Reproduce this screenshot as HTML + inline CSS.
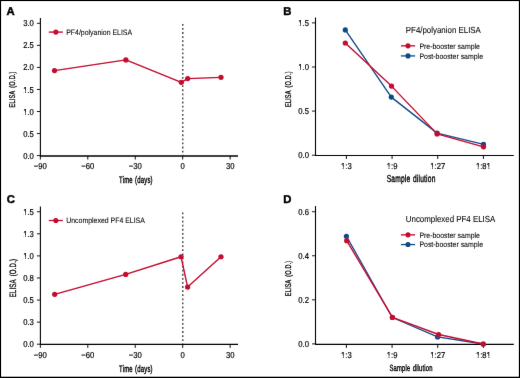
<!DOCTYPE html>
<html><head><meta charset="utf-8"><style>
html,body{margin:0;padding:0;background:#fff;}
svg{display:block;font-family:"Liberation Sans", sans-serif;text-rendering:geometricPrecision;}
text{stroke:#000;stroke-width:0.07px;paint-order:stroke;}
text.b{stroke:none;}
text.m{stroke-width:0.32px;}
text.L{stroke-width:0.45px;}
text.t{stroke-width:0.2px;}
text.y{stroke-width:0.3px;}
text.x{stroke-width:0.4px;}
</style></head><body>
<svg width="520" height="378" viewBox="0 0 520 378">
<defs><filter id="bl" x="0" y="0" width="520" height="378" filterUnits="userSpaceOnUse"><feConvolveMatrix order="3" kernelMatrix="0.0028 0.0470 0.0028 0.0470 0.8008 0.0470 0.0028 0.0470 0.0028" divisor="1" edgeMode="none" preserveAlpha="false"/></filter></defs>
<rect x="0" y="0" width="520" height="378" fill="#fff"/>
<g filter="url(#bl)">
<text x="6.4" y="14.75" font-size="11.3" font-weight="bold" fill="#000" class="L">A</text>
<line x1="40.4" y1="17.9" x2="40.4" y2="156" stroke="#000" stroke-width="1.1"/>
<line x1="39.9" y1="156" x2="238" y2="156" stroke="#000" stroke-width="1.4"/>
<line x1="36.9" y1="155.6" x2="40.4" y2="155.6" stroke="#000" stroke-width="0.9"/>
<text transform="translate(33.9,158.65) scale(0.8929,1)" font-size="8.62" text-anchor="end" fill="#000" class="t">0.0</text>
<line x1="36.9" y1="133.55" x2="40.4" y2="133.55" stroke="#000" stroke-width="0.9"/>
<text transform="translate(33.9,136.6) scale(0.8929,1)" font-size="8.62" text-anchor="end" fill="#000" class="t">0.5</text>
<line x1="36.9" y1="111.5" x2="40.4" y2="111.5" stroke="#000" stroke-width="0.9"/>
<g transform="translate(33.9,114.55) scale(0.8929,1)"><text font-size="8.62" text-anchor="end" fill="#000" class="t">1.0</text><rect x="-11.778" y="-1.769" width="1.853" height="2.190" fill="#fff"/><rect x="-8.952" y="-1.769" width="1.722" height="2.190" fill="#fff"/></g>
<line x1="36.9" y1="89.45" x2="40.4" y2="89.45" stroke="#000" stroke-width="0.9"/>
<g transform="translate(33.9,92.5) scale(0.8929,1)"><text font-size="8.62" text-anchor="end" fill="#000" class="t">1.5</text><rect x="-11.778" y="-1.769" width="1.853" height="2.190" fill="#fff"/><rect x="-8.952" y="-1.769" width="1.722" height="2.190" fill="#fff"/></g>
<line x1="36.9" y1="67.4" x2="40.4" y2="67.4" stroke="#000" stroke-width="0.9"/>
<text transform="translate(33.9,70.45) scale(0.8929,1)" font-size="8.62" text-anchor="end" fill="#000" class="t">2.0</text>
<line x1="36.9" y1="45.35" x2="40.4" y2="45.35" stroke="#000" stroke-width="0.9"/>
<text transform="translate(33.9,48.4) scale(0.8929,1)" font-size="8.62" text-anchor="end" fill="#000" class="t">2.5</text>
<line x1="36.9" y1="23.3" x2="40.4" y2="23.3" stroke="#000" stroke-width="0.9"/>
<text transform="translate(33.9,26.35) scale(0.8929,1)" font-size="8.62" text-anchor="end" fill="#000" class="t">3.0</text>
<line x1="40.35" y1="156" x2="40.35" y2="159.5" stroke="#000" stroke-width="0.95"/>
<text transform="translate(40.35,169.4) scale(0.8929,1)" font-size="8.62" text-anchor="middle" fill="#000" class="t">−90</text>
<line x1="87.8" y1="156" x2="87.8" y2="159.5" stroke="#000" stroke-width="0.95"/>
<text transform="translate(87.8,169.4) scale(0.8929,1)" font-size="8.62" text-anchor="middle" fill="#000" class="t">−60</text>
<line x1="135.25" y1="156" x2="135.25" y2="159.5" stroke="#000" stroke-width="0.95"/>
<text transform="translate(135.25,169.4) scale(0.8929,1)" font-size="8.62" text-anchor="middle" fill="#000" class="t">−30</text>
<line x1="182.7" y1="156" x2="182.7" y2="159.5" stroke="#000" stroke-width="0.95"/>
<text transform="translate(182.7,169.4) scale(0.8929,1)" font-size="8.62" text-anchor="middle" fill="#000" class="t">0</text>
<line x1="230.15" y1="156" x2="230.15" y2="159.5" stroke="#000" stroke-width="0.95"/>
<text transform="translate(230.15,169.4) scale(0.8929,1)" font-size="8.62" text-anchor="middle" fill="#000" class="t">30</text>
<line x1="182.8" y1="23.9" x2="182.8" y2="155.3" stroke="#333" stroke-width="1.3" stroke-dasharray="1.8 2.29"/>
<text transform="translate(135.9,182.9) scale(0.62,1)" font-size="9.6" text-anchor="middle" font-weight="normal" fill="#000" class="x" letter-spacing="0.3" word-spacing="0.8">Time (days)</text>
<text transform="translate(15.1,89.35) rotate(-90) scale(0.668,1)" font-size="8.4" text-anchor="middle" font-weight="normal" fill="#000" class="y" letter-spacing="0.3" word-spacing="2.0">ELISA (O.D.)</text>
<line x1="48.8" y1="32.1" x2="62.9" y2="32.1" stroke="#c4082d" stroke-width="1.3"/>
<circle cx="55.85" cy="32.1" r="2.55" fill="#c4082d"/>
<text transform="translate(66.2,34.85) scale(0.8929,1)" font-size="7.78" text-anchor="start" fill="#000">PF4/polyanion ELISA</text>
<polyline points="54.5,70.6 125.9,59.95 181.3,82.3 187.7,78.6 221,77.3" fill="none" stroke="#c4082d" stroke-width="1.35" stroke-linejoin="round"/>
<circle cx="54.5" cy="70.6" r="2.6" fill="#c4082d"/>
<circle cx="125.9" cy="59.95" r="2.6" fill="#c4082d"/>
<circle cx="181.3" cy="82.3" r="2.6" fill="#c4082d"/>
<circle cx="187.7" cy="78.6" r="2.6" fill="#c4082d"/>
<circle cx="221" cy="77.3" r="2.6" fill="#c4082d"/>
<text x="6.7" y="203" font-size="11.3" font-weight="bold" fill="#000" class="L">C</text>
<line x1="40.4" y1="206.5" x2="40.4" y2="344.4" stroke="#000" stroke-width="1.1"/>
<line x1="39.9" y1="344.4" x2="238" y2="344.4" stroke="#000" stroke-width="1.1"/>
<line x1="36.9" y1="344.2" x2="40.4" y2="344.2" stroke="#000" stroke-width="0.9"/>
<text transform="translate(33.9,347.25) scale(0.8929,1)" font-size="8.62" text-anchor="end" fill="#000" class="t">0.0</text>
<line x1="36.9" y1="322.12" x2="40.4" y2="322.12" stroke="#000" stroke-width="0.9"/>
<text transform="translate(33.9,325.18) scale(0.8929,1)" font-size="8.62" text-anchor="end" fill="#000" class="t">0.3</text>
<line x1="36.9" y1="300.05" x2="40.4" y2="300.05" stroke="#000" stroke-width="0.9"/>
<text transform="translate(33.9,303.1) scale(0.8929,1)" font-size="8.62" text-anchor="end" fill="#000" class="t">0.5</text>
<line x1="36.9" y1="277.98" x2="40.4" y2="277.98" stroke="#000" stroke-width="0.9"/>
<text transform="translate(33.9,281.03) scale(0.8929,1)" font-size="8.62" text-anchor="end" fill="#000" class="t">0.8</text>
<line x1="36.9" y1="255.9" x2="40.4" y2="255.9" stroke="#000" stroke-width="0.9"/>
<g transform="translate(33.9,258.95) scale(0.8929,1)"><text font-size="8.62" text-anchor="end" fill="#000" class="t">1.0</text><rect x="-11.778" y="-1.769" width="1.853" height="2.190" fill="#fff"/><rect x="-8.952" y="-1.769" width="1.722" height="2.190" fill="#fff"/></g>
<line x1="36.9" y1="233.82" x2="40.4" y2="233.82" stroke="#000" stroke-width="0.9"/>
<g transform="translate(33.9,236.88) scale(0.8929,1)"><text font-size="8.62" text-anchor="end" fill="#000" class="t">1.3</text><rect x="-11.778" y="-1.769" width="1.853" height="2.190" fill="#fff"/><rect x="-8.952" y="-1.769" width="1.722" height="2.190" fill="#fff"/></g>
<line x1="36.9" y1="211.75" x2="40.4" y2="211.75" stroke="#000" stroke-width="0.9"/>
<g transform="translate(33.9,214.8) scale(0.8929,1)"><text font-size="8.62" text-anchor="end" fill="#000" class="t">1.5</text><rect x="-11.778" y="-1.769" width="1.853" height="2.190" fill="#fff"/><rect x="-8.952" y="-1.769" width="1.722" height="2.190" fill="#fff"/></g>
<line x1="40.35" y1="344.4" x2="40.35" y2="347.9" stroke="#000" stroke-width="0.95"/>
<text transform="translate(40.35,358) scale(0.8929,1)" font-size="8.62" text-anchor="middle" fill="#000" class="t">−90</text>
<line x1="87.8" y1="344.4" x2="87.8" y2="347.9" stroke="#000" stroke-width="0.95"/>
<text transform="translate(87.8,358) scale(0.8929,1)" font-size="8.62" text-anchor="middle" fill="#000" class="t">−60</text>
<line x1="135.25" y1="344.4" x2="135.25" y2="347.9" stroke="#000" stroke-width="0.95"/>
<text transform="translate(135.25,358) scale(0.8929,1)" font-size="8.62" text-anchor="middle" fill="#000" class="t">−30</text>
<line x1="182.7" y1="344.4" x2="182.7" y2="347.9" stroke="#000" stroke-width="0.95"/>
<text transform="translate(182.7,358) scale(0.8929,1)" font-size="8.62" text-anchor="middle" fill="#000" class="t">0</text>
<line x1="230.15" y1="344.4" x2="230.15" y2="347.9" stroke="#000" stroke-width="0.95"/>
<text transform="translate(230.15,358) scale(0.8929,1)" font-size="8.62" text-anchor="middle" fill="#000" class="t">30</text>
<line x1="182.8" y1="212.5" x2="182.8" y2="343.9" stroke="#333" stroke-width="1.3" stroke-dasharray="1.8 2.29"/>
<text transform="translate(135.9,371.5) scale(0.62,1)" font-size="9.6" text-anchor="middle" font-weight="normal" fill="#000" class="x" letter-spacing="0.3" word-spacing="0.8">Time (days)</text>
<text transform="translate(15.6,278.05) rotate(-90) scale(0.658,1)" font-size="9.2" text-anchor="middle" font-weight="normal" fill="#000" class="y" letter-spacing="0.3" word-spacing="2.0">ELISA (O.D.)</text>
<line x1="48.8" y1="220.5" x2="62.9" y2="220.5" stroke="#c4082d" stroke-width="1.3"/>
<circle cx="55.85" cy="220.5" r="2.55" fill="#c4082d"/>
<text transform="translate(66.2,223.25) scale(0.8929,1)" font-size="7.78" text-anchor="start" fill="#000">Uncomplexed PF4 ELISA</text>
<polyline points="54.7,294.3 125.7,274.45 181.05,256.75 187.6,287.05 221,256.75" fill="none" stroke="#c4082d" stroke-width="1.35" stroke-linejoin="round"/>
<circle cx="54.7" cy="294.3" r="2.6" fill="#c4082d"/>
<circle cx="125.7" cy="274.45" r="2.6" fill="#c4082d"/>
<circle cx="181.05" cy="256.75" r="2.6" fill="#c4082d"/>
<circle cx="187.6" cy="287.05" r="2.6" fill="#c4082d"/>
<circle cx="221" cy="256.75" r="2.6" fill="#c4082d"/>
<text x="283.2" y="14.5" font-size="11.3" font-weight="bold" fill="#000" class="L">B</text>
<line x1="315.5" y1="17.5" x2="315.5" y2="155.45" stroke="#000" stroke-width="1.1"/>
<line x1="315" y1="155.45" x2="513.8" y2="155.45" stroke="#000" stroke-width="1.1"/>
<line x1="312" y1="155.2" x2="315.5" y2="155.2" stroke="#000" stroke-width="0.9"/>
<text transform="translate(309,158.25) scale(0.8929,1)" font-size="8.62" text-anchor="end" fill="#000" class="t">0.0</text>
<line x1="312" y1="111.1" x2="315.5" y2="111.1" stroke="#000" stroke-width="0.9"/>
<text transform="translate(309,114.15) scale(0.8929,1)" font-size="8.62" text-anchor="end" fill="#000" class="t">0.5</text>
<line x1="312" y1="67" x2="315.5" y2="67" stroke="#000" stroke-width="0.9"/>
<g transform="translate(309,70.05) scale(0.8929,1)"><text font-size="8.62" text-anchor="end" fill="#000" class="t">1.0</text><rect x="-11.778" y="-1.769" width="1.853" height="2.190" fill="#fff"/><rect x="-8.952" y="-1.769" width="1.722" height="2.190" fill="#fff"/></g>
<line x1="312" y1="22.9" x2="315.5" y2="22.9" stroke="#000" stroke-width="0.9"/>
<g transform="translate(309,25.95) scale(0.8929,1)"><text font-size="8.62" text-anchor="end" fill="#000" class="t">1.5</text><rect x="-11.778" y="-1.769" width="1.853" height="2.190" fill="#fff"/><rect x="-8.952" y="-1.769" width="1.722" height="2.190" fill="#fff"/></g>
<line x1="346.4" y1="155.45" x2="346.4" y2="158.95" stroke="#000" stroke-width="0.95"/>
<g transform="translate(346.4,168.8) scale(0.8929,1)"><text font-size="8.62" text-anchor="middle" fill="#000" class="t">1:3</text><rect x="-5.784" y="-1.769" width="1.853" height="2.190" fill="#fff"/><rect x="-2.958" y="-1.769" width="1.722" height="2.190" fill="#fff"/></g>
<line x1="392.07" y1="155.45" x2="392.07" y2="158.95" stroke="#000" stroke-width="0.95"/>
<g transform="translate(392.07,168.8) scale(0.8929,1)"><text font-size="8.62" text-anchor="middle" fill="#000" class="t">1:9</text><rect x="-5.784" y="-1.769" width="1.853" height="2.190" fill="#fff"/><rect x="-2.958" y="-1.769" width="1.722" height="2.190" fill="#fff"/></g>
<line x1="437.74" y1="155.45" x2="437.74" y2="158.95" stroke="#000" stroke-width="0.95"/>
<g transform="translate(437.74,168.8) scale(0.8929,1)"><text font-size="8.62" text-anchor="middle" fill="#000" class="t">1:27</text><rect x="-8.182" y="-1.769" width="1.853" height="2.190" fill="#fff"/><rect x="-5.356" y="-1.769" width="1.722" height="2.190" fill="#fff"/></g>
<line x1="483.41" y1="155.45" x2="483.41" y2="158.95" stroke="#000" stroke-width="0.95"/>
<g transform="translate(483.41,168.8) scale(0.8929,1)"><text font-size="8.62" text-anchor="middle" fill="#000" class="t">1:81</text><rect x="-8.182" y="-1.769" width="1.853" height="2.190" fill="#fff"/><rect x="-5.356" y="-1.769" width="1.722" height="2.190" fill="#fff"/><rect x="3.807" y="-1.769" width="1.853" height="2.190" fill="#fff"/><rect x="6.632" y="-1.769" width="1.722" height="2.190" fill="#fff"/></g>
<text transform="translate(411.1,182.3) scale(0.652,1)" font-size="10.2" text-anchor="middle" font-weight="normal" fill="#000" class="x" letter-spacing="0.3" word-spacing="0.8">Sample dilution</text>
<text transform="translate(290.7,89.2) rotate(-90) scale(0.663,1)" font-size="8.4" text-anchor="middle" font-weight="normal" fill="#000" class="y" letter-spacing="0.3" word-spacing="2.0">ELISA (O.D.)</text>
<text transform="translate(405.8,33.1) scale(0.8929,1)" font-size="8.85" text-anchor="start" fill="#000">PF4/polyanion ELISA</text>
<line x1="400.9" y1="45.85" x2="415.1" y2="45.85" stroke="#c4082d" stroke-width="1.3"/>
<circle cx="408" cy="45.85" r="2.55" fill="#c4082d"/>
<text transform="translate(419.4,48.6) scale(0.8929,1)" font-size="7.78" text-anchor="start" fill="#000">Pre-booster sample</text>
<line x1="400.9" y1="55.9" x2="415.1" y2="55.9" stroke="#0a4a88" stroke-width="1.3"/>
<circle cx="408" cy="55.9" r="2.55" fill="#0a4a88"/>
<text transform="translate(419.4,58.65) scale(0.8929,1)" font-size="7.78" text-anchor="start" fill="#000">Post-booster sample</text>
<polyline points="345.3,29.9 391.3,97.1 437.1,133.1 483.5,144.4" fill="none" stroke="#0a4a88" stroke-width="1.35" stroke-linejoin="round"/>
<circle cx="345.3" cy="29.9" r="2.6" fill="#0a4a88"/>
<circle cx="391.3" cy="97.1" r="2.6" fill="#0a4a88"/>
<circle cx="437.1" cy="133.1" r="2.6" fill="#0a4a88"/>
<circle cx="483.5" cy="144.4" r="2.6" fill="#0a4a88"/>
<polyline points="345.3,43 391.5,86.1 437.1,133.9 483.5,146.8" fill="none" stroke="#c4082d" stroke-width="1.35" stroke-linejoin="round"/>
<circle cx="345.3" cy="43" r="2.6" fill="#c4082d"/>
<circle cx="391.5" cy="86.1" r="2.6" fill="#c4082d"/>
<circle cx="437.1" cy="133.9" r="2.6" fill="#c4082d"/>
<circle cx="483.5" cy="146.8" r="2.6" fill="#c4082d"/>
<text x="283.2" y="203" font-size="11.3" font-weight="bold" fill="#000" class="L">D</text>
<line x1="315.5" y1="206.1" x2="315.5" y2="344.4" stroke="#000" stroke-width="1.1"/>
<line x1="315" y1="344.4" x2="513.8" y2="344.4" stroke="#000" stroke-width="1.1"/>
<line x1="312" y1="343.9" x2="315.5" y2="343.9" stroke="#000" stroke-width="0.9"/>
<text transform="translate(309,346.95) scale(0.8929,1)" font-size="8.62" text-anchor="end" fill="#000" class="t">0.0</text>
<line x1="312" y1="299.84" x2="315.5" y2="299.84" stroke="#000" stroke-width="0.9"/>
<text transform="translate(309,302.89) scale(0.8929,1)" font-size="8.62" text-anchor="end" fill="#000" class="t">0.2</text>
<line x1="312" y1="255.78" x2="315.5" y2="255.78" stroke="#000" stroke-width="0.9"/>
<text transform="translate(309,258.83) scale(0.8929,1)" font-size="8.62" text-anchor="end" fill="#000" class="t">0.4</text>
<line x1="312" y1="211.72" x2="315.5" y2="211.72" stroke="#000" stroke-width="0.9"/>
<text transform="translate(309,214.77) scale(0.8929,1)" font-size="8.62" text-anchor="end" fill="#000" class="t">0.6</text>
<line x1="346.4" y1="344.4" x2="346.4" y2="347.9" stroke="#000" stroke-width="0.95"/>
<g transform="translate(346.4,357.8) scale(0.8929,1)"><text font-size="8.62" text-anchor="middle" fill="#000" class="t">1:3</text><rect x="-5.784" y="-1.769" width="1.853" height="2.190" fill="#fff"/><rect x="-2.958" y="-1.769" width="1.722" height="2.190" fill="#fff"/></g>
<line x1="392.07" y1="344.4" x2="392.07" y2="347.9" stroke="#000" stroke-width="0.95"/>
<g transform="translate(392.07,357.8) scale(0.8929,1)"><text font-size="8.62" text-anchor="middle" fill="#000" class="t">1:9</text><rect x="-5.784" y="-1.769" width="1.853" height="2.190" fill="#fff"/><rect x="-2.958" y="-1.769" width="1.722" height="2.190" fill="#fff"/></g>
<line x1="437.74" y1="344.4" x2="437.74" y2="347.9" stroke="#000" stroke-width="0.95"/>
<g transform="translate(437.74,357.8) scale(0.8929,1)"><text font-size="8.62" text-anchor="middle" fill="#000" class="t">1:27</text><rect x="-8.182" y="-1.769" width="1.853" height="2.190" fill="#fff"/><rect x="-5.356" y="-1.769" width="1.722" height="2.190" fill="#fff"/></g>
<line x1="483.41" y1="344.4" x2="483.41" y2="347.9" stroke="#000" stroke-width="0.95"/>
<g transform="translate(483.41,357.8) scale(0.8929,1)"><text font-size="8.62" text-anchor="middle" fill="#000" class="t">1:81</text><rect x="-8.182" y="-1.769" width="1.853" height="2.190" fill="#fff"/><rect x="-5.356" y="-1.769" width="1.722" height="2.190" fill="#fff"/><rect x="3.807" y="-1.769" width="1.853" height="2.190" fill="#fff"/><rect x="6.632" y="-1.769" width="1.722" height="2.190" fill="#fff"/></g>
<text transform="translate(411.1,371.2) scale(0.645,1)" font-size="9.0" text-anchor="middle" font-weight="normal" fill="#000" class="x" letter-spacing="0.3" word-spacing="0.8">Sample dilution</text>
<text transform="translate(290.6,278.4) rotate(-90) scale(0.665,1)" font-size="8.3" text-anchor="middle" font-weight="normal" fill="#000" class="y" letter-spacing="0.3" word-spacing="2.0">ELISA (O.D.)</text>
<text transform="translate(405.8,222) scale(0.8929,1)" font-size="8.85" text-anchor="start" fill="#000">Uncomplexed PF4 ELISA</text>
<line x1="400.9" y1="234.85" x2="415.1" y2="234.85" stroke="#c4082d" stroke-width="1.3"/>
<circle cx="408" cy="234.85" r="2.55" fill="#c4082d"/>
<text transform="translate(419.4,237.6) scale(0.8929,1)" font-size="7.78" text-anchor="start" fill="#000">Pre-booster sample</text>
<line x1="400.9" y1="244.55" x2="415.1" y2="244.55" stroke="#0a4a88" stroke-width="1.3"/>
<circle cx="408" cy="244.55" r="2.55" fill="#0a4a88"/>
<text transform="translate(419.4,247.3) scale(0.8929,1)" font-size="7.78" text-anchor="start" fill="#000">Post-booster sample</text>
<polyline points="346.4,236.3 392.3,317.5 437.6,336.9 483.3,344" fill="none" stroke="#0a4a88" stroke-width="1.35" stroke-linejoin="round"/>
<circle cx="346.4" cy="236.3" r="2.6" fill="#0a4a88"/>
<circle cx="392.3" cy="317.5" r="2.6" fill="#0a4a88"/>
<circle cx="437.6" cy="336.9" r="2.6" fill="#0a4a88"/>
<circle cx="483.3" cy="344" r="2.6" fill="#0a4a88"/>
<polyline points="346.7,240.7 392.5,317.3 438.6,334.5 483.1,344" fill="none" stroke="#c4082d" stroke-width="1.35" stroke-linejoin="round"/>
<circle cx="346.7" cy="240.7" r="2.6" fill="#c4082d"/>
<circle cx="392.5" cy="317.3" r="2.6" fill="#c4082d"/>
<circle cx="438.6" cy="334.5" r="2.6" fill="#c4082d"/>
<circle cx="483.1" cy="344" r="2.6" fill="#c4082d"/>
</g>
<rect x="0" y="0" width="520" height="1.1" fill="#000"/>
<rect x="0" y="0" width="1.1" height="378" fill="#000"/>
<rect x="518.85" y="0" width="1.15" height="378" fill="#000"/>
<rect x="0" y="376.7" width="520" height="1.3" fill="#000"/>
</svg>
</body></html>
